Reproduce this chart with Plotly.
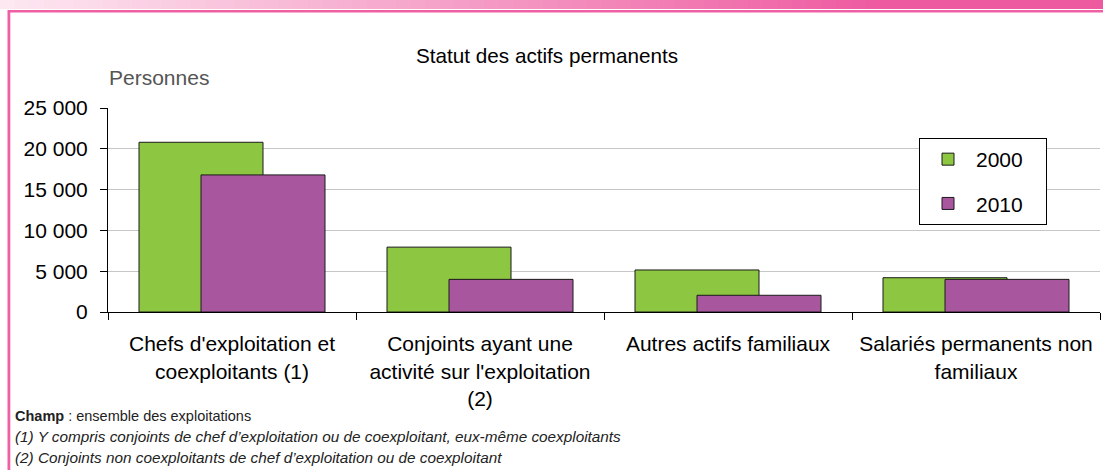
import plotly.graph_objects as go

# ---- data ----
categories = [
    "Chefs d'exploitation et<br>coexploitants (1)",
    "Conjoints ayant une<br>activité sur l'exploitation<br>(2)",
    "Autres actifs familiaux",
    "Salariés permanents non<br>familiaux",
]
series_names = ["2000", "2010"]
values_2000 = [20800, 7950, 5150, 4200]
values_2010 = [16800, 4000, 2050, 4000]
y_tick_values = [0, 5000, 10000, 15000, 20000, 25000]
y_tick_labels = ["0", "5 000", "10 000", "15 000", "20 000", "25 000"]

title_text = "Statut des actifs permanents"
unit_text = "Personnes"
notes = [
    "<b>Champ</b> : ensemble des exploitations",
    "<i>(1) Y compris conjoints de chef d\u2019exploitation ou de coexploitant, eux-même coexploitants</i>",
    "<i>(2) Conjoints non coexploitants de chef d\u2019exploitation ou de coexploitant</i>",
]

# ---- layout geometry (pixels) ----
W, H = 1103, 470
L, R, T, B = 108, 3, 108, 158
PW = W - L - R
PH = H - T - B


def px(x):
    return (x - L) / PW


def py(y):
    return (H - B - y) / PH


FONT = "Liberation Sans, Arial, sans-serif"
GREEN = "#8DC641"
PURPLE = "#A8579E"
PAD = "\u00a0\u00a0\u00a0"

fig = go.Figure()
fig.add_trace(go.Bar(
    x=categories, y=values_2000, name=series_names[0] + PAD,
    width=0.5, offset=-0.375, marker=dict(color=GREEN, line=dict(color="#1a1a1a", width=1)),
    legendgroup="a", opacity=1,
))
fig.add_trace(go.Bar(
    x=categories, y=values_2010, name=series_names[1] + PAD,
    width=0.5, offset=-0.125, marker=dict(color=PURPLE, line=dict(color="#1a1a1a", width=1)),
    legendgroup="b", opacity=1,
))

shapes = []
# top gradient band (decoration)
N = 60
x_end = 880
c0 = (253, 233, 242)
c1 = (238, 90, 160)
for i in range(N):
    xa = x_end * i / N
    xb = x_end * (i + 1) / N + 0.8
    t = (i + 0.5) / N
    col = "rgb(%d,%d,%d)" % tuple(round(c0[k] + (c1[k] - c0[k]) * t) for k in range(3))
    shapes.append(dict(type="rect", xref="paper", yref="paper",
                       x0=px(xa), x1=px(xb), y0=py(9), y1=py(0),
                       fillcolor=col, line=dict(width=0), layer="above"))
shapes.append(dict(type="rect", xref="paper", yref="paper",
                   x0=px(x_end), x1=px(W), y0=py(9), y1=py(0),
                   fillcolor="rgb(238,90,160)", line=dict(width=0), layer="above"))
# pink frame lines
shapes.append(dict(type="rect", xref="paper", yref="paper",
                   x0=px(8), x1=px(W), y0=py(12.5), y1=py(10),
                   fillcolor="#EE5FA4", line=dict(width=0), layer="above"))
shapes.append(dict(type="rect", xref="paper", yref="paper",
                   x0=px(7.5), x1=px(10.3), y0=py(H), y1=py(10),
                   fillcolor="#EE5FA4", line=dict(width=0), layer="above"))

annotations = [
    dict(text=title_text, xref="paper", yref="paper", x=px(547), y=py(55),
         xanchor="center", yanchor="middle", showarrow=False,
         font=dict(family=FONT, size=20.7, color="#000")),
    dict(text=unit_text, xref="paper", yref="paper", x=px(107), y=py(77),
         xanchor="left", yanchor="middle", showarrow=False,
         font=dict(family=FONT, size=21, color="#555")),
]
for note, yc, fs in zip(notes, [416, 436, 457], [14.5, 15.3, 15.3]):
    annotations.append(dict(text=note, xref="paper", yref="paper", x=px(13), y=py(yc),
                            xanchor="left", yanchor="middle", showarrow=False,
                            font=dict(family=FONT, size=fs, color="#222")))

fig.update_layout(
    width=W, height=H,
    margin=dict(l=L, r=R, t=T, b=B, pad=0),
    paper_bgcolor="white", plot_bgcolor="white",
    barmode="overlay",
    font=dict(family=FONT, size=20, color="#000"),
    showlegend=True,
    legend=dict(
        x=px(919), y=py(138), xanchor="left", yanchor="top",
        bgcolor="white", bordercolor="#000", borderwidth=1,
        font=dict(family=FONT, size=21, color="#000"),
        tracegroupgap=14, traceorder="grouped", itemwidth=46,
    ),
    xaxis=dict(
        type="category", range=[-0.5, 3.5], tickson="boundaries",
        ticks="outside", ticklen=7, tickcolor="#000", tickwidth=1,
        showline=True, linecolor="#000", linewidth=1, showgrid=False,
        tickfont=dict(family=FONT, size=21, color="#000"),
        ticklabelstandoff=13, fixedrange=True,
    ),
    yaxis=dict(
        range=[0, 25000], tickvals=y_tick_values, ticktext=y_tick_labels,
        ticks="outside", ticklen=7, tickcolor="#000", tickwidth=1,
        showline=True, linecolor="#000", linewidth=1,
        showgrid=True, gridcolor="#C6C6C6", gridwidth=1, zeroline=False,
        tickfont=dict(family=FONT, size=21, color="#000"),
        ticklabelstandoff=8, fixedrange=True,
    ),
    shapes=shapes,
    annotations=annotations,
)

fig.write_html("out.html", config={"displayModeBar": False},
               post_script="document.body.style.margin='0';")
